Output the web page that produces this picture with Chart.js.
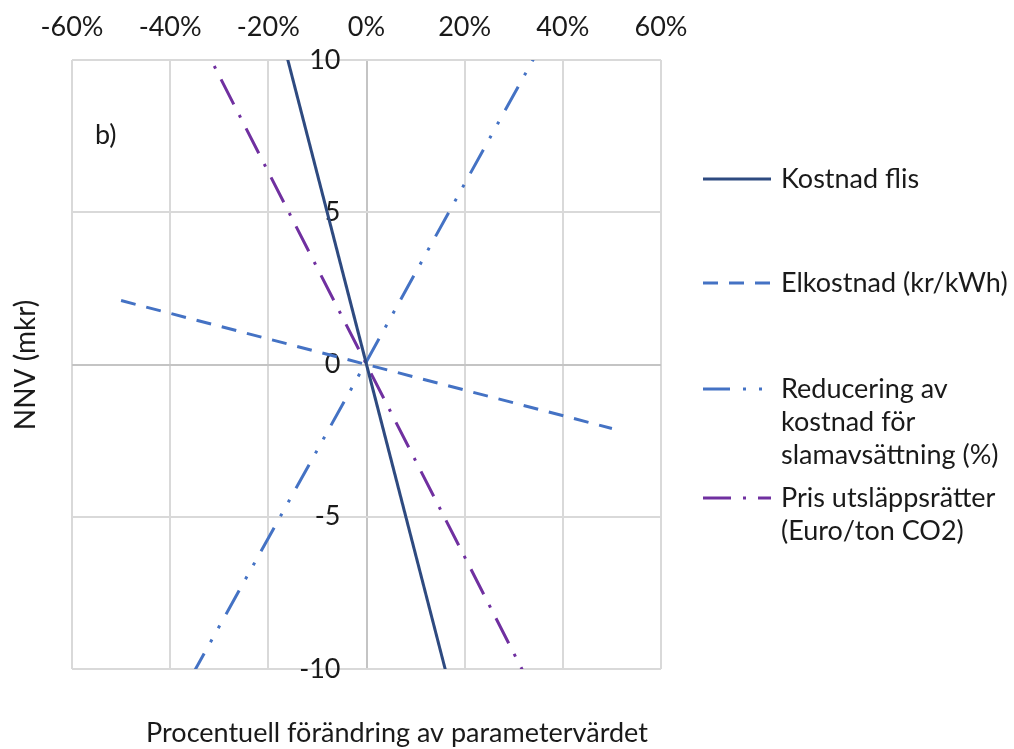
<!DOCTYPE html>
<html>
<head>
<meta charset="utf-8">
<script src="https://cdn.jsdelivr.net/npm/chart.js@4.4.1/dist/chart.umd.min.js"></script>
<style>
html,body{margin:0;padding:0;background:#fff;}
#wrap{width:1014px;height:749px;position:relative;}
</style>
</head>
<body>
<div id="wrap"><canvas id="c"></canvas></div>
<script>
// ---- data ----
const xValues = [-50, 0, 50];               // % change of parameter
const kostnadFlis = [31.2, 0, -31.2];
const elkostnad = [2.1, 0, -2.1];
const reducering = [-14.4, 0.1, 14.7];
const prisUtslapp = [15.8, 0, -15.8];

const seriesNames = [
  ['Kostnad flis'],
  ['Elkostnad (kr/kWh)'],
  ['Reducering av', 'kostnad för', 'slamavsättning (%)'],
  ['Pris utsläppsrätter', '(Euro/ton CO2)']
];
const xTickValues = [-60, -40, -20, 0, 20, 40, 60];
const yTickValues = [-10, -5, 0, 5, 10];
const xTitle = 'Procentuell förändring av parametervärdet';
const yTitle = 'NNV (mkr)';
const panelLabel = 'b)';

const FONT = 'Lato';
const FS = 27;
const TXT = '#1a1a1a';

function pts(ys){ return xValues.map((x,i)=>({x:x, y:ys[i]})); }

const datasets = [
  {label: seriesNames[0].join(' '), data: pts(kostnadFlis), borderColor:'#2E4A80', borderWidth:3, borderDash:[]},
  {label: seriesNames[1].join(' '), data: pts(elkostnad), borderColor:'#4472C4', borderWidth:3, borderDash:[15,11]},
  {label: seriesNames[2].join(' '), data: pts(reducering), borderColor:'#4472C4', borderWidth:3, borderDash:[27,13,3,13,3,13]},
  {label: seriesNames[3].join(' '), data: pts(prisUtslapp), borderColor:'#7030A0', borderWidth:3, borderDash:[28,12,3,12]}
].map(d => Object.assign(d, {showLine:true, pointRadius:0, fill:false, clip:0, tension:0, borderCapStyle:'butt'}));

const extras = {
  id: 'extras',
  afterDraw(chart){
    const ctx = chart.ctx;
    ctx.save();
    ctx.fillStyle = TXT;
    ctx.font = FS + 'px ' + FONT;
    ctx.textBaseline = 'middle';
    // panel label
    ctx.textAlign = 'left';
    ctx.fillText(panelLabel, 95, 135);
    // x title
    ctx.textAlign = 'center';
    ctx.fillText(xTitle, 397, 733);
    // y title
    ctx.save();
    ctx.font = '28px ' + FONT;
    ctx.translate(26, 365);
    ctx.rotate(-Math.PI/2);
    ctx.fillText(yTitle, 0, 0);
    ctx.restore();
    // legend
    const legendY = [179, 283, 389, 498];
    const lineH = 33;
    chart.data.datasets.forEach((ds, i) => {
      const y = legendY[i];
      ctx.save();
      ctx.strokeStyle = ds.borderColor;
      ctx.lineWidth = ds.borderWidth;
      ctx.setLineDash(ds.borderDash || []);
      ctx.lineCap = 'butt';
      ctx.beginPath();
      ctx.moveTo(703, y);
      ctx.lineTo(771, y);
      ctx.stroke();
      ctx.restore();
      ctx.textAlign = 'left';
      ctx.font = FS + 'px ' + FONT;
      seriesNames[i].forEach((t, k) => ctx.fillText(t, 781, y + k*lineH));
    });
    ctx.restore();
  }
};

function gridColor(ctx){
  return (ctx.tick && ctx.tick.value === 0) ? '#c4c4c4' : '#d9d9d9';
}

function draw(){
  new Chart(document.getElementById('c'), {
    type: 'scatter',
    data: {datasets},
    options: {
      responsive: true,
      maintainAspectRatio: false,
      animation: false,
      layout: {padding: {left:72, right:353, top:0, bottom:80}},
      plugins: {legend:{display:false}, tooltip:{enabled:false}, title:{display:false}},
      scales: {
        x: {
          type:'linear', position:'top', min:-60, max:60,
          afterBuildTicks: s => { s.ticks = xTickValues.map(v => ({value:v})); },
          afterFit: s => { s.height = 60; },
          grid: {color: gridColor, lineWidth:2, drawTicks:false},
          border: {display:false},
          ticks: {padding:17, color:TXT, font:{family:FONT, size:FS}, callback: v => v + '%'}
        },
        y: {
          // labels sit just left of the 0% line, as in the original
          type:'linear', position:{x:-5.3}, min:-10, max:10,
          afterBuildTicks: s => { s.ticks = yTickValues.map(v => ({value:v})); },
          grid: {color: gridColor, lineWidth:2, drawTicks:false},
          border: {display:false},
          ticks: {padding:0, color:TXT, font:{family:FONT, size:FS}}
        }
      }
    },
    plugins: [extras]
  });
}
if (document.fonts && document.fonts.load) {
  Promise.all([document.fonts.load(FS + 'px Lato'), document.fonts.load('28px Lato')]).then(draw, draw);
} else draw();
</script>
</body>
</html>
